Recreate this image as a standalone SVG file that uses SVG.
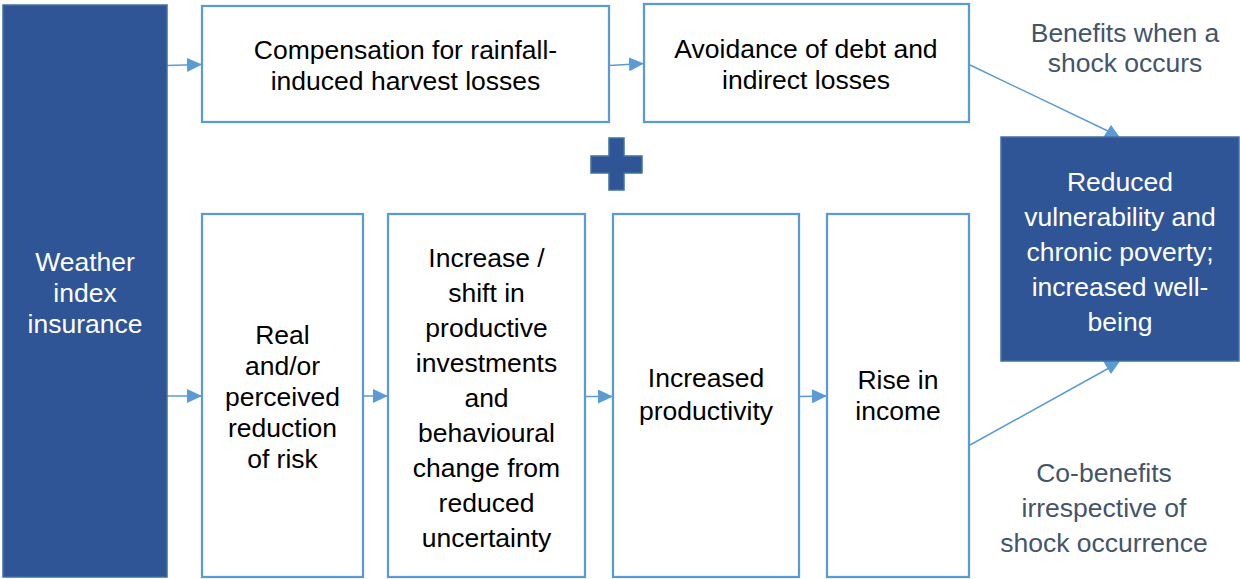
<svg xmlns="http://www.w3.org/2000/svg" width="1240" height="579" viewBox="0 0 1240 579">
  <style>
    .box { fill: #FFFFFF; stroke: #5B9BD5; stroke-width: 2.25; }
    .dark { fill: #2F5597; stroke: #41719C; stroke-width: 1.5; }
    text { font-family: "Liberation Sans", Arial, sans-serif; font-size: 26.5px; text-anchor: middle; }
    .t-black { fill: #000000; }
    .t-white { fill: #FFFFFF; }
    .t-note { fill: #44546A; }
    .conn { stroke: #5B9BD5; stroke-width: 1.5; fill: none; }
    .head { fill: #5B9BD5; stroke: none; }
  </style>
  <defs>
    <marker id="arrow" viewBox="0 0 15 14" refX="15" refY="7" markerWidth="15" markerHeight="14" markerUnits="userSpaceOnUse" orient="auto">
      <path d="M0,0 L15,7 L0,14 Z" class="head"/>
    </marker>
  </defs>
  <rect width="1240" height="579" fill="#FFFFFF"/>

  <!-- connectors -->
  <g id="connectors">
    <line class="conn" x1="167" y1="65.5" x2="202" y2="64.5" marker-end="url(#arrow)"/>
    <line class="conn" x1="609" y1="65.5" x2="644" y2="63.5" marker-end="url(#arrow)"/>
    <line class="conn" x1="167" y1="396" x2="202" y2="396" marker-end="url(#arrow)"/>
    <line class="conn" x1="363" y1="396" x2="388" y2="396" marker-end="url(#arrow)"/>
    <line class="conn" x1="585" y1="396.5" x2="613" y2="396.5" marker-end="url(#arrow)"/>
    <line class="conn" x1="799" y1="396.5" x2="827" y2="396" marker-end="url(#arrow)"/>
    <!-- shock branch into the outcome box -->
    <line class="conn" x1="970" y1="65" x2="1110" y2="132"/>
    <polygon class="head" points="1111,125 1120,137.5 1103,137.5"/>
    <!-- co-benefit branch into the outcome box -->
    <line class="conn" x1="970" y1="445" x2="1109" y2="368"/>
    <polygon class="head" points="1103,361 1120,361 1111,374"/>
  </g>

  <g id="node-weather">
    <rect class="dark" x="3" y="5" width="164" height="572"/>
    <text class="t-white" x="85" y="271">Weather</text>
    <text class="t-white" x="85" y="302">index</text>
    <text class="t-white" x="85" y="333">insurance</text>
  </g>

  <g id="node-compensation">
    <rect class="box" x="202" y="6" width="407" height="116"/>
    <text class="t-black" x="405.5" y="59">Compensation for rainfall-</text>
    <text class="t-black" x="405.5" y="90">induced harvest losses</text>
  </g>

  <g id="node-avoidance">
    <rect class="box" x="644" y="4" width="325" height="118"/>
    <text class="t-black" x="806" y="58">Avoidance of debt and</text>
    <text class="t-black" x="806" y="89">indirect losses</text>
  </g>

  <g id="plus">
    <path class="dark" d="M609,138 H624 V156 H642 V173 H624 V190 H609 V173 H591 V156 H609 Z"/>
  </g>

  <g id="note-shock">
    <text class="t-note" x="1125" y="42">Benefits when a</text>
    <text class="t-note" x="1125" y="72">shock occurs</text>
  </g>

  <g id="node-outcome">
    <rect class="dark" x="1001" y="137" width="238" height="224"/>
    <text class="t-white" x="1120" y="191">Reduced</text>
    <text class="t-white" x="1120" y="226">vulnerability and</text>
    <text class="t-white" x="1120" y="261">chronic poverty;</text>
    <text class="t-white" x="1120" y="296">increased well-</text>
    <text class="t-white" x="1120" y="331">being</text>
  </g>

  <g id="node-risk">
    <rect class="box" x="202" y="214" width="161" height="363"/>
    <text class="t-black" x="282.5" y="344">Real</text>
    <text class="t-black" x="282.5" y="375">and/or</text>
    <text class="t-black" x="282.5" y="406">perceived</text>
    <text class="t-black" x="282.5" y="437">reduction</text>
    <text class="t-black" x="282.5" y="468">of risk</text>
  </g>

  <g id="node-investment">
    <rect class="box" x="388" y="214" width="197" height="363"/>
    <text class="t-black" x="486.5" y="267">Increase /</text>
    <text class="t-black" x="486.5" y="302">shift in</text>
    <text class="t-black" x="486.5" y="337">productive</text>
    <text class="t-black" x="486.5" y="372">investments</text>
    <text class="t-black" x="486.5" y="407">and</text>
    <text class="t-black" x="486.5" y="442">behavioural</text>
    <text class="t-black" x="486.5" y="477">change from</text>
    <text class="t-black" x="486.5" y="512">reduced</text>
    <text class="t-black" x="486.5" y="547">uncertainty</text>
  </g>

  <g id="node-productivity">
    <rect class="box" x="613" y="214" width="186" height="363"/>
    <text class="t-black" x="706" y="387">Increased</text>
    <text class="t-black" x="706" y="420">productivity</text>
  </g>

  <g id="node-income">
    <rect class="box" x="827" y="214" width="142" height="363"/>
    <text class="t-black" x="898" y="389">Rise in</text>
    <text class="t-black" x="898" y="420">income</text>
  </g>

  <g id="note-cobenefits">
    <text class="t-note" x="1104" y="482">Co-benefits</text>
    <text class="t-note" x="1104" y="517">irrespective of</text>
    <text class="t-note" x="1104" y="552">shock occurrence</text>
  </g>
</svg>
